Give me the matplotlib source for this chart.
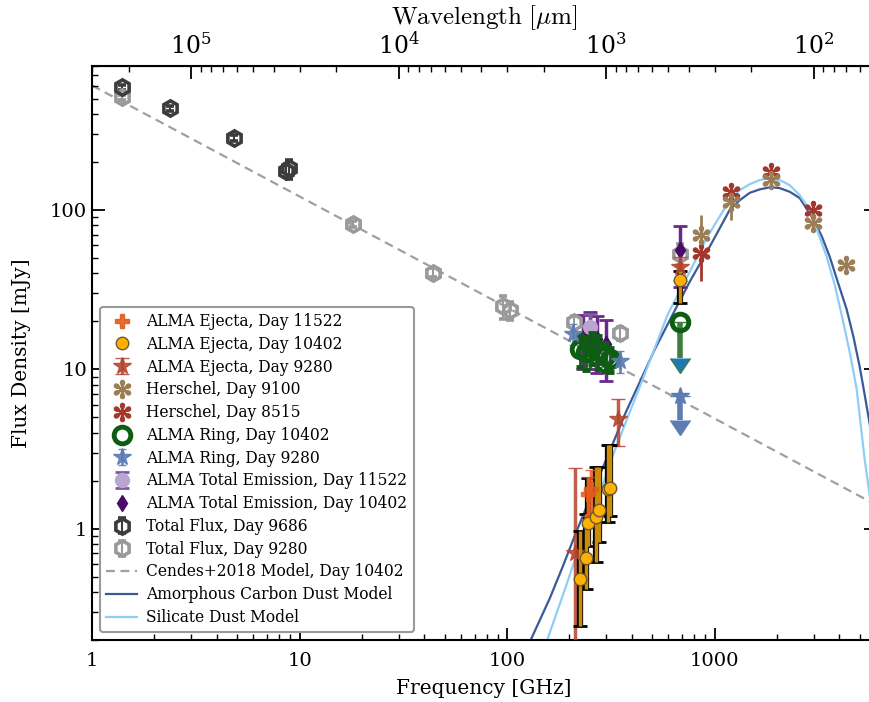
import numpy as np
import matplotlib
matplotlib.use('Agg')
import matplotlib.pyplot as plt
from matplotlib.lines import Line2D
from matplotlib.ticker import FuncFormatter, NullFormatter, FixedLocator, LogFormatterSciNotation
from matplotlib.textpath import TextPath
from matplotlib.font_manager import FontProperties
from matplotlib.path import Path

plt.rcParams['font.family'] = ['DejaVu Serif']
plt.rcParams['mathtext.fontset'] = 'cm'

# ---------------- data ----------------
ej11522_nu = [245, 255]
ej11522_F = [1.65, 1.78]
ej11522_err = [0.45, 0.55]

ej10402_nu = [225, 240, 246, 269, 278, 305, 315, 680]
ej10402_F = [0.485, 0.656, 1.08, 1.18, 1.30, 1.78, 1.80, 36.5]
ej10402_lo = [0.24, 0.24, 0.30, 0.56, 0.47, 0.68, 0.60, 10.5]
ej10402_hi = [0.48, 0.58, 1.00, 1.25, 1.15, 1.57, 1.55, 5.0]

ej9280_nu = [212, 343, 680]
ej9280_F = [0.70, 4.87, 43.6]
ej9280_lo = [0.69, 1.55, 8.0]
ej9280_hi = [1.69, 1.62, 7.0]

her9100_nu = [857, 1199, 1874, 2998, 4283]
her9100_F = [70, 112, 154, 83, 45.3]
her9100_err = [23, 26, 12, 8, 4]

her8515_nu = [857, 1199, 1874, 2998]
her8515_F = [54, 130, 173, 100]
her8515_err = [18, 12, 14, 9]

ring10402_nu = [225, 240, 258, 275, 297, 315]
ring10402_F = [13.4, 12.9, 13.8, 13.1, 12.2, 11.6]
ring10402_err = [3, 3, 3, 3, 2.5, 2]
ring10402_lim_nu = [680]
ring10402_lim_F = [19.7]
ring10402_lim_len = [8.0]

ring9280_nu = [208, 350]
ring9280_F = [16.7, 11.3]
ring9280_err = [2.5, 1.8]
ring9280_lim_nu = [680]
ring9280_lim_F = [6.8]
ring9280_lim_len = [2.0]

tot11522_nu = [251]
tot11522_F = [18.3]
tot11522_err = [4.0]

tot10402_nu = [233, 252, 270, 300, 680]
tot10402_F = [16.0, 16.5, 15.5, 14.5, 56.0]
tot10402_err = [6.0, 6.5, 6.0, 6.0, 23.0]

flux9686_nu = [1.395, 2.376, 4.83, 8.6, 8.9]
flux9686_F = [587, 434, 282, 175, 182]
flux9686_err = [20, 15, 12, 15, 25]

flux9280_nu = [1.4, 18.1, 43.9, 95.4, 103, 210, 350, 680]
flux9280_F = [508, 81.8, 40.4, 24.8, 23.4, 19.7, 16.8, 53.1]
flux9280_err = [15, 4, 2.5, 4, 3, 2, 1.5, 8]

cendes_nu = [1, 6000]
cendes_F = [604, 1.41]

carbon_nu = [131.2, 160.7, 185.7, 212.2, 245, 280, 323, 374, 436, 515, 629, 760,
             959, 1183, 1322, 1478, 1651, 1866, 2061, 2302, 2571, 2971, 3283, 3589,
             3921, 4335, 4680, 5004, 5287, 5596, 6000]
carbon_F = [0.205, 0.365, 0.579, 0.904, 1.433, 2.175, 3.40, 5.39, 8.29, 13.3, 22.1,
            35.5, 60.4, 100, 115, 128, 134.5, 139, 137, 130, 118.8, 89, 68.6, 50.9,
            35.5, 23.7, 15.8, 10.4, 6.97, 4.53, 2.55]

silicate_nu = [157.2, 185.7, 219.3, 270.8, 323, 382, 451, 595, 760, 917, 1183, 1322,
               1478, 1651, 1845, 2061, 2302, 2571, 2875, 3141, 3470, 3793, 4147, 4478,
               4843, 5287, 5596, 6000]
silicate_F = [0.205, 0.381, 0.718, 1.475, 2.86, 5.01, 8.66, 22.1, 41.0, 66.8, 115.5,
              133, 145, 154, 158.5, 154, 143, 123.9, 100, 73, 50.9, 34, 20.5, 12.9,
              7.5, 2.74, 1.61, 0.85]

# ---------------- figure ----------------
W, H = 870, 702
fig = plt.figure(figsize=(W / 100, H / 100), dpi=100)
ax = fig.add_axes([92 / W, 62 / H, (876 - 92) / W, (640 - 66) / H])
ax.set_xscale('log')
ax.set_yscale('log')
ax.set_xlim(1, 6000)
ax.set_ylim(0.2, 800)

c_orange = '#e35b1c'
c_yellow = '#ffb000'
c_gold = '#c98d0a'
c_red = '#b5442c'
c_tan = '#9b7e55'
c_hred = '#a4362c'
c_green = '#0d5e12'
c_blue = '#5b7db3'
c_lpurple = '#bba5d0'
c_purple_bar = '#7d5a9e'
c_dpurple = '#4a0a6a'
c_dgray = '#3c3c3c'
c_lgray = '#9a9a9a'

# teardrop asterisk marker for Herschel
tp = TextPath((0, 0), '\u273B', size=1, prop=FontProperties(family='DejaVu Sans'))
if len(tp.vertices) > 4:
    ext = tp.get_extents()
    v = tp.vertices.copy()
    v[:, 0] -= (ext.x0 + ext.x1) / 2
    v[:, 1] -= (ext.y0 + ext.y1) / 2
    ast = Path(v, tp.codes)
    ast_ms = 14.5
else:
    ast = r'$\ast$'
    ast_ms = 15

# models
ax.plot(cendes_nu, cendes_F, color='#a0a0a0', lw=1.6, dashes=(4, 2.5), zorder=1)
ax.plot(carbon_nu, carbon_F, color='#3a5a98', lw=1.6, zorder=2)
ax.plot(silicate_nu, silicate_F, color='#8fcdf7', lw=1.6, zorder=2)

# Total flux
h_f9280 = ax.errorbar(flux9280_nu, flux9280_F, yerr=flux9280_err, fmt='h', ms=11, mfc='none',
                      mec=c_lgray, mew=2.6, ecolor=c_lgray, elinewidth=1.5, capsize=3,
                      capthick=1.5, zorder=3)
h_f9686 = ax.errorbar(flux9686_nu, flux9686_F, yerr=flux9686_err, fmt='h', ms=11, mfc='none',
                      mec=c_dgray, mew=2.6, ecolor=c_dgray, elinewidth=1.5, capsize=3,
                      capthick=1.5, zorder=3)

# Total emission
ax.errorbar(tot10402_nu, tot10402_F, yerr=tot10402_err, fmt='d', ms=8, color=c_dpurple,
            ecolor='#6a2a8a', elinewidth=2.5, capsize=5, capthick=2, zorder=3)
h_t11522 = ax.errorbar(tot11522_nu, tot11522_F, yerr=tot11522_err, fmt='o', ms=10, color=c_lpurple,
                       ecolor=c_purple_bar, elinewidth=2.5, capsize=5, capthick=2, zorder=3)

# ALMA ring
ax.errorbar(ring10402_nu, ring10402_F, yerr=ring10402_err, fmt='o', ms=12, mfc='none',
            mec=c_green, mew=3.5, ecolor=c_green, elinewidth=2, capsize=3, capthick=1.5, zorder=4)
ax.errorbar(ring10402_lim_nu, ring10402_lim_F, yerr=ring10402_lim_len, uplims=True, fmt='none',
            ecolor='#3d7f3e', elinewidth=4, capsize=7, zorder=3)
ax.plot(ring10402_lim_nu, ring10402_lim_F, 'o', ms=12, mfc='none', mec=c_green, mew=3.5, zorder=4)

h_r9280 = ax.errorbar(ring9280_nu, ring9280_F, yerr=ring9280_err, fmt='*', ms=13, color=c_blue,
                      alpha=0.9, ecolor=c_blue, elinewidth=2, capsize=3, zorder=4)
ax.errorbar(ring9280_lim_nu, ring9280_lim_F, yerr=ring9280_lim_len, uplims=True, fmt='*', ms=13,
            color=c_blue, ecolor=c_blue, elinewidth=4, capsize=7, zorder=4)

# Herschel
ax.errorbar(her8515_nu, her8515_F, yerr=her8515_err, fmt='none', ecolor=c_hred, elinewidth=2, zorder=3)
ax.plot(her8515_nu, her8515_F, ls='none', marker=ast, ms=ast_ms, color=c_hred, zorder=4)
ax.errorbar(her9100_nu, her9100_F, yerr=her9100_err, fmt='none', ecolor=c_tan, elinewidth=2, zorder=3)
ax.plot(her9100_nu, her9100_F, ls='none', marker=ast, ms=ast_ms, color=c_tan, zorder=4)

# ALMA ejecta
h_e9280 = ax.errorbar(ej9280_nu, ej9280_F, yerr=[ej9280_lo, ej9280_hi], fmt='*', ms=13, color=c_red,
                      alpha=0.85, ecolor=c_red, elinewidth=2.5, capsize=5, capthick=1, zorder=4)
ax.errorbar(ej10402_nu, ej10402_F, yerr=[ej10402_lo, ej10402_hi], fmt='none', ecolor='black',
            elinewidth=4.5, capsize=5, capthick=2, zorder=4)
ax.errorbar(ej10402_nu, ej10402_F, yerr=[ej10402_lo, ej10402_hi], fmt='o', ms=9, mfc=c_yellow,
            mec='#6b5a30', mew=1, ecolor=c_gold, elinewidth=2.5, zorder=5)
ax.errorbar(ej11522_nu, ej11522_F, yerr=ej11522_err, fmt='P', ms=10, color=c_orange, alpha=0.85,
            ecolor=c_orange, elinewidth=2.5, capsize=4, zorder=5)

# ---------------- legend ----------------
def mk(marker, **kw):
    return Line2D([], [], ls='none', marker=marker, **kw)

handles = [
    mk('P', ms=10, color=c_orange, alpha=0.9),
    mk('o', ms=9, mfc=c_yellow, mec='#6b5a30', mew=1),
    h_e9280,
    mk(ast, ms=ast_ms, color=c_tan),
    mk(ast, ms=ast_ms, color=c_hred),
    mk('o', ms=12, mfc='none', mec=c_green, mew=3.5),
    h_r9280,
    h_t11522,
    mk('d', ms=8, color=c_dpurple),
    h_f9686,
    h_f9280,
    Line2D([], [], color='#a0a0a0', lw=1.6, dashes=(4, 2.5)),
    Line2D([], [], color='#3a5a98', lw=1.6),
    Line2D([], [], color='#8fcdf7', lw=1.6),
]
labels = ['ALMA Ejecta, Day 11522', 'ALMA Ejecta, Day 10402', 'ALMA Ejecta, Day 9280',
          'Herschel, Day 9100', 'Herschel, Day 8515', 'ALMA Ring, Day 10402',
          'ALMA Ring, Day 9280', 'ALMA Total Emission, Day 11522',
          'ALMA Total Emission, Day 10402', 'Total Flux, Day 9686', 'Total Flux, Day 9280',
          'Cendes+2018 Model, Day 10402', 'Amorphous Carbon Dust Model', 'Silicate Dust Model']
leg = ax.legend(handles, labels, loc='lower left', fontsize=11.2, handlelength=2.0,
                handletextpad=0.6, labelspacing=0.37, borderaxespad=0.5, frameon=True,
                fancybox=True, framealpha=1.0, edgecolor='#999999')
leg.get_frame().set_linewidth(1.5)

# ---------------- axes styling ----------------
fmt = FuncFormatter(lambda v, p: f'{v:g}')
ax.xaxis.set_major_formatter(fmt)
ax.yaxis.set_major_formatter(fmt)
ax.xaxis.set_minor_formatter(NullFormatter())
ax.yaxis.set_minor_formatter(NullFormatter())
ax.tick_params(which='both', direction='in', top=False, right=True, labelsize=14)
ax.tick_params(axis='x', which='major', pad=9)
ax.tick_params(which='major', length=9, width=1.3)
ax.tick_params(which='minor', length=4.5, width=1.0)
for s in ax.spines.values():
    s.set_linewidth(1.5)

ax.set_xlabel('Frequency [GHz]', fontsize=14.5, labelpad=6)
ax.set_ylabel('Flux Density [mJy]', fontsize=14.5, labelpad=14)

sec = ax.secondary_xaxis('top', functions=(lambda x: 3e5 / np.clip(x, 1e-9, None),
                                            lambda x: 3e5 / np.clip(x, 1e-9, None)))
sec.xaxis.set_major_locator(FixedLocator([1e2, 1e3, 1e4, 1e5]))
sec.xaxis.set_major_formatter(LogFormatterSciNotation())
sec.xaxis.set_minor_formatter(NullFormatter())
sec.tick_params(which='both', direction='in', labelsize=17)
sec.tick_params(which='major', length=9, width=1.3, pad=5)
sec.tick_params(which='minor', length=4.5, width=1.0)
sec.set_xlabel(r'$\mathrm{Wavelength\ [}\mu\mathrm{m]}$', fontsize=18, labelpad=6)

fig.savefig('out.png', dpi=100)
